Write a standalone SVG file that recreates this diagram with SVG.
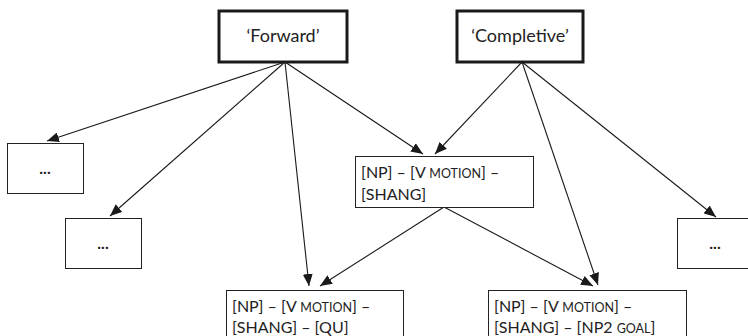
<svg xmlns="http://www.w3.org/2000/svg" width="748" height="336" viewBox="0 0 748 336">
<style>
text{font-family:Lato,"Open Sans",sans-serif;font-size:16px;fill:#222}
.lab{font-size:18px}
.sc{font-size:12.5px}
.dots{font-weight:bold;font-size:16px}
.top{fill:#fff;stroke:#1a1a1a;stroke-width:3}
.box{fill:#fff;stroke:#222;stroke-width:1}
.c{stroke:#1a1a1a;stroke-width:1.1;fill:none;marker-end:url(#ah)}
</style>
<defs>
<marker id="ah" viewBox="0 0 12 10" refX="12" refY="5" markerWidth="12" markerHeight="10" markerUnits="userSpaceOnUse" orient="auto">
<path d="M0,0 L12,5 L0,10 Z" fill="#1a1a1a"/>
</marker>
</defs>
<rect width="748" height="336" fill="#fff"/>
<g id="connectors">
<line class="c" x1="285" y1="62" x2="47" y2="141"/>
<line class="c" x1="285" y1="62" x2="110" y2="216"/>
<line class="c" x1="285" y1="62" x2="309" y2="286"/>
<line class="c" x1="285" y1="62" x2="423" y2="154"/>
<line class="c" x1="522" y1="62" x2="435" y2="154"/>
<line class="c" x1="522" y1="62" x2="598" y2="285"/>
<line class="c" x1="522" y1="62" x2="716" y2="217"/>
<line class="c" x1="444" y1="207" x2="320" y2="286"/>
<line class="c" x1="444" y1="207" x2="593" y2="286"/>
</g>
<g id="forward">
<rect class="top" x="219" y="11" width="128" height="51"/>
<text class="lab" x="283" y="42" text-anchor="middle">‘Forward’</text>
</g>
<g id="completive">
<rect class="top" x="457" y="11" width="126" height="51"/>
<text class="lab" x="520" y="42" text-anchor="middle">‘Completive’</text>
</g>
<g id="dots1">
<rect class="box" x="7.5" y="143.5" width="76" height="50"/>
<text class="dots" x="45" y="174" text-anchor="middle">...</text>
</g>
<g id="dots2">
<rect class="box" x="65.5" y="218.5" width="76" height="50"/>
<text class="dots" x="103" y="249" text-anchor="middle">...</text>
</g>
<g id="dots3">
<rect class="box" x="677.5" y="218.5" width="80" height="50"/>
<text class="dots" x="715" y="249" text-anchor="middle">...</text>
</g>
<g id="shang">
<rect class="box" x="355.5" y="156.5" width="178" height="51"/>
<text x="361" y="178">[NP] – [V <tspan class="sc">MOTION</tspan>] –</text>
<text x="361" y="200">[SHANG]</text>
</g>
<g id="qu">
<rect class="box" x="226.5" y="290.5" width="177" height="60"/>
<text x="232" y="312">[NP] – [V <tspan class="sc">MOTION</tspan>] –</text>
<text x="232" y="333">[SHANG] – [QU]</text>
</g>
<g id="goal">
<rect class="box" x="488.5" y="290.5" width="198" height="60"/>
<text x="494" y="312">[NP] – [V <tspan class="sc">MOTION</tspan>] –</text>
<text x="494" y="333">[SHANG] – [NP2 <tspan class="sc">GOAL</tspan>]</text>
</g>
</svg>
